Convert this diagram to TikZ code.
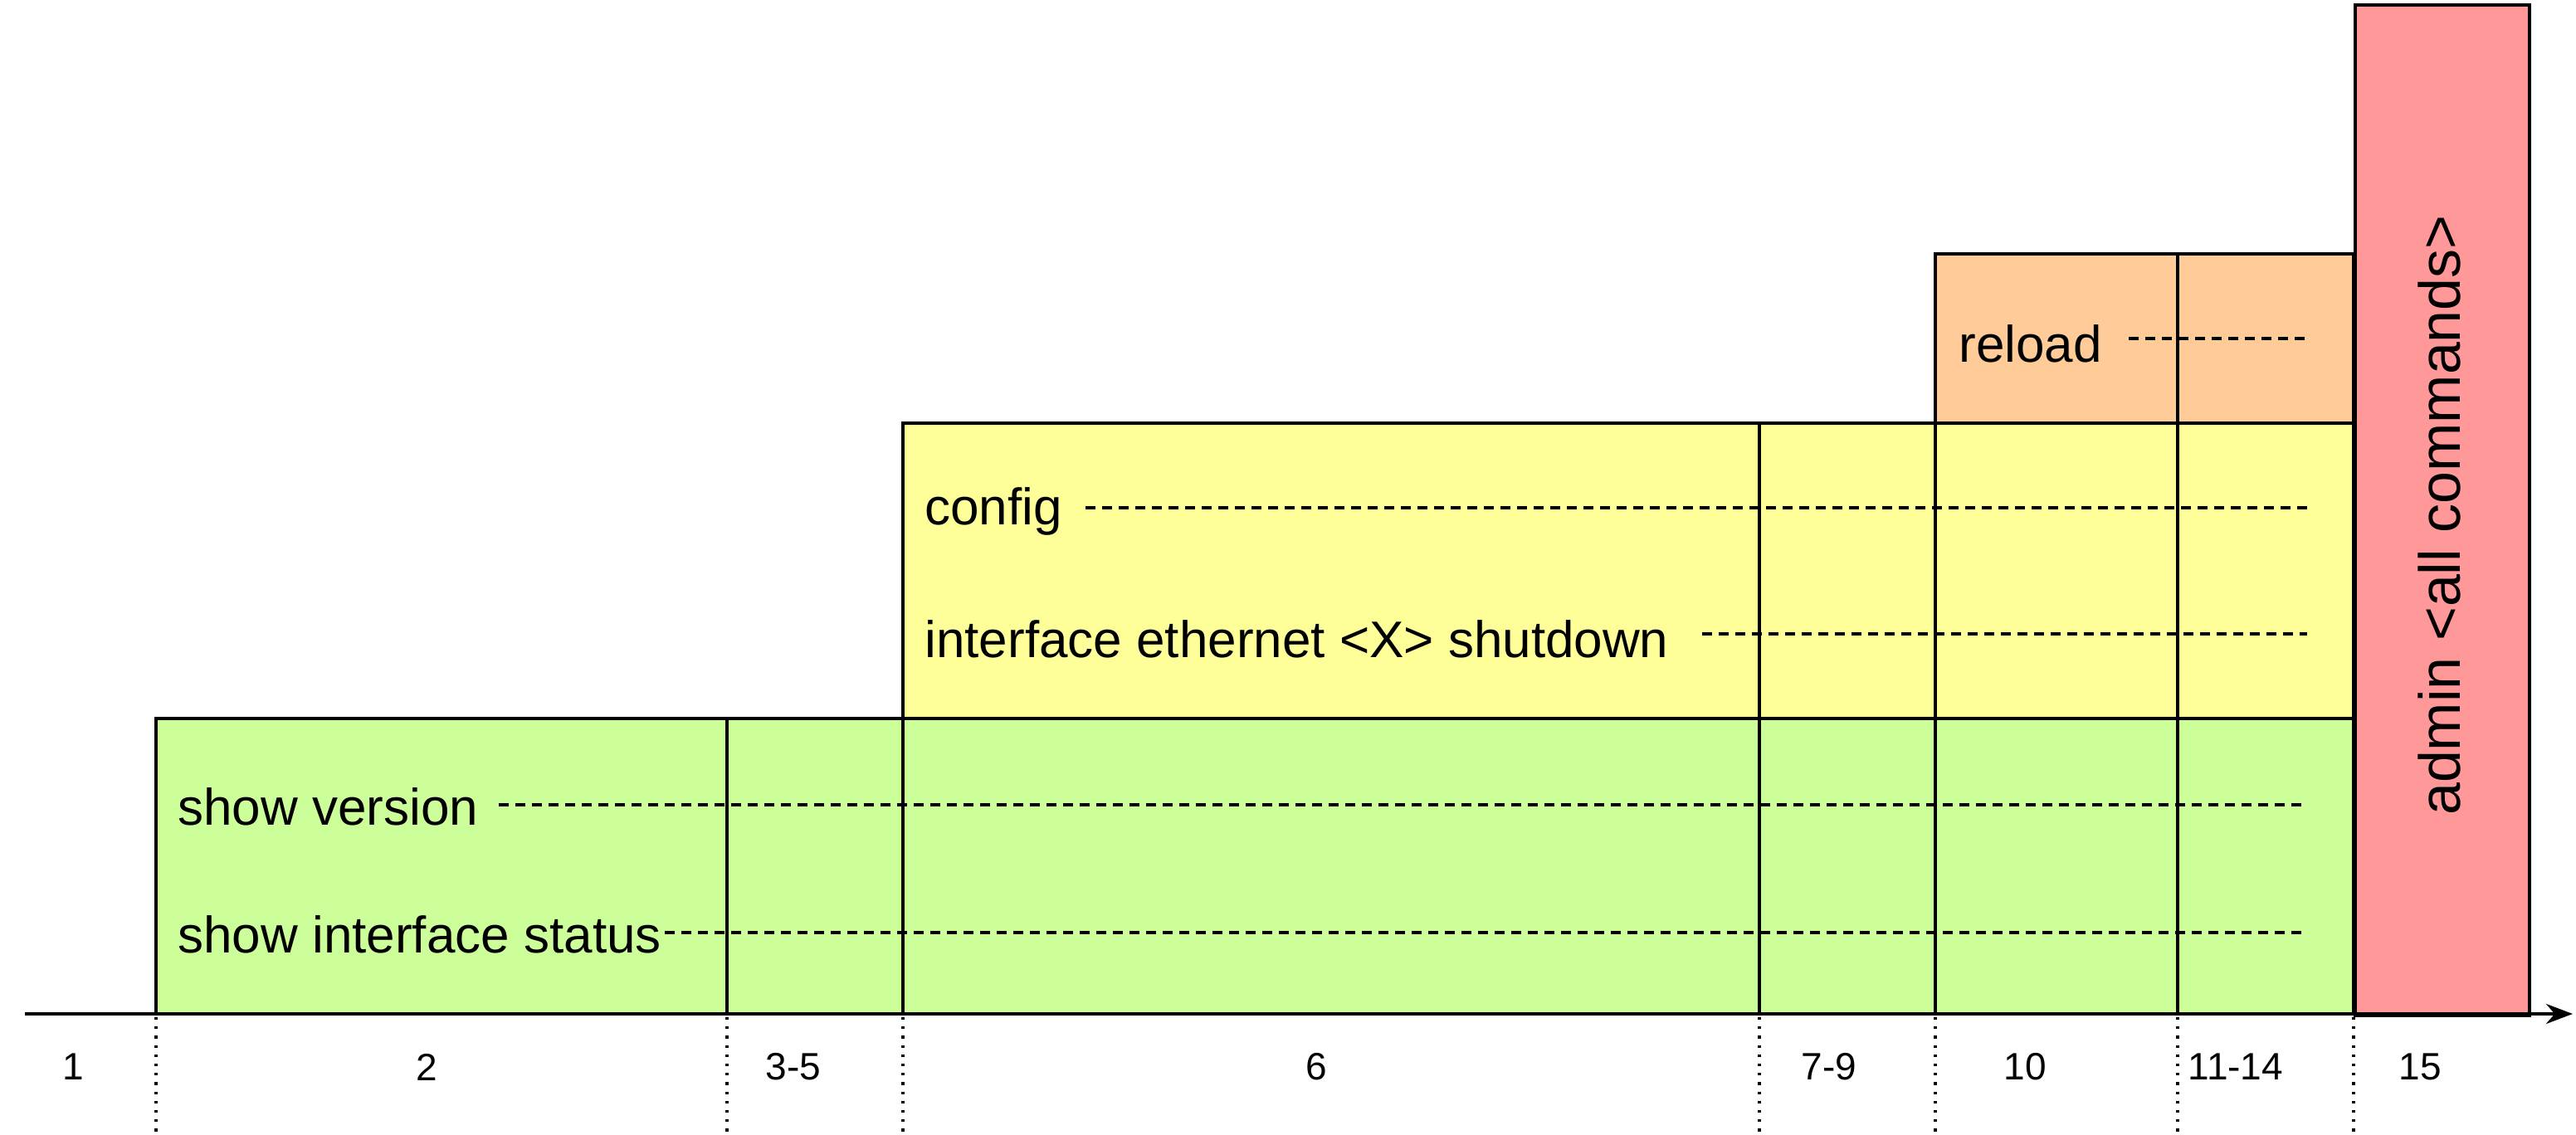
\documentclass[tikz,border=0pt]{standalone}
\usepackage{fontspec}
\setmainfont{Liberation Sans}
\usetikzlibrary{arrows.meta}
\begin{document}
\begin{tikzpicture}[x=1pt,y=-1pt,
  blk/.style={draw=black,line width=2pt},
  lbl/.style={anchor=west,font=\fontsize{31}{36}\selectfont,inner sep=0pt},
  ax/.style={font=\fontsize{23}{28}\selectfont},
  dl/.style={dash pattern=on 6pt off 4pt,line width=1.6pt},
  dv/.style={dash pattern=on 1.6pt off 4pt,line width=1.6pt}]
\useasboundingbox (0,0) rectangle (1552,684);
\fill[fill={rgb,255:red,204;green,255;blue,153}] (94,433) rectangle (1418,611);
\fill[fill={rgb,255:red,255;green,255;blue,153}] (544,255) rectangle (1418,433);
\fill[fill={rgb,255:red,255;green,204;blue,153}] (1166,153) rectangle (1418,255);
\foreach \a/\b in {94/438,438/544,544/1060,1060/1166,1166/1312,1312/1418}
  \draw[blk] (\a,433) rectangle (\b,611);
\foreach \a/\b in {544/1060,1060/1166,1166/1312,1312/1418}
  \draw[blk] (\a,255) rectangle (\b,433);
\foreach \a/\b in {1166/1312,1312/1418}
  \draw[blk] (\a,153) rectangle (\b,255);
\node[blk,fill={rgb,255:red,255;green,153;blue,153},minimum width=105pt,minimum height=609pt,inner sep=0pt,anchor=north west] (admin) at (1418,2) {};
\node[rotate=90,font=\fontsize{35}{40}\selectfont] (admintxt) at ([xshift=-2pt,yshift=-3pt]admin.center) {admin <all commands>};
\coordinate (a0) at (15,611); \coordinate (a1) at (1550,611);
\draw[line width=2pt,-{Stealth[length=16pt,width=12pt]}] (a0) -- (a1);
\foreach \x in {94,438,544,1060,1166,1312,1418}
  \draw[dv] (\x,613) -- (\x,688);
\foreach \x/\t in {44/1,257/2,478/3-5,793/6,1102/7-9,1220/10,1347/11-14,1458/15}
  \node[ax] at (\x,643) {\t};
\node[lbl] (sv) at (107,486) {show version};
\node[lbl] (sis) at (107,563) {show interface status};
\node[lbl] (cfg) at (557,308) {config};
\node[lbl] (ies) at (557,385) {interface ethernet <X> shutdown};
\node[lbl] (rl) at (1180,207) {reload};
\coordinate (e1) at (1390,485); \coordinate (e2) at (1390,562);
\coordinate (e3) at (1390,306); \coordinate (e4) at (1390,382);
\coordinate (e5) at (1390,204);
\draw[dl] ([xshift=12pt]sv.east|-e1) -- (e1);
\draw[dl] ([xshift=2pt]sis.east|-e2) -- (e2);
\draw[dl] ([xshift=14pt]cfg.east|-e3) -- (e3);
\draw[dl] ([xshift=20pt]ies.east|-e4) -- (e4);
\draw[dl] ([xshift=16pt]rl.east|-e5) -- (e5);
\end{tikzpicture}
\end{document}
